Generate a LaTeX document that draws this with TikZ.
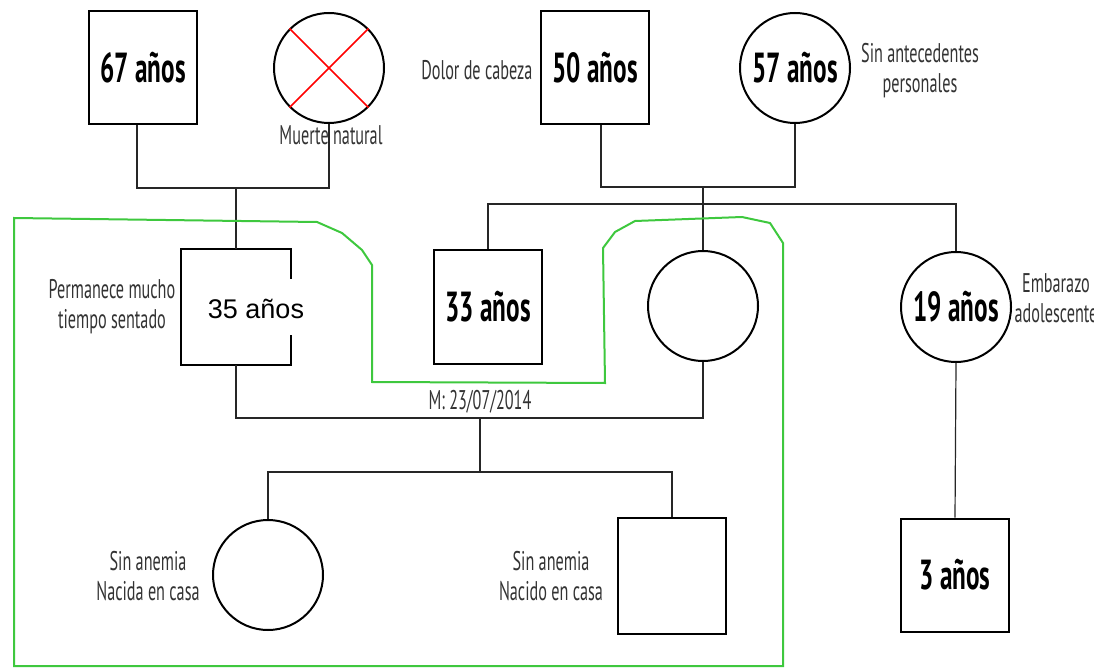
\documentclass[tikz,border=0pt]{standalone}
\usepackage{fontspec}
\setmainfont{Liberation Sans}
\newfontfamily\notefont[FakeStretch=0.6]{PT Sans}
\newfontfamily\agefont[FakeStretch=0.6]{PT Sans}
\definecolor{hull}{RGB}{62,200,62}

\begin{document}
\begin{tikzpicture}[x=1pt, y=-1pt,
  male/.style={draw, line width=2pt, minimum width=108pt, minimum height=113pt, inner sep=0pt},
  female/.style={circle, draw, line width=2pt, minimum size=110pt, inner sep=0pt},
  age/.style={font=\agefont\bfseries\fontsize{42}{46}\selectfont},
  note/.style={font=\notefont\fontsize{27}{30}\selectfont, text=black!80, align=center},
  link/.style={line width=1.2pt, black!85},
  group/.style={line width=2pt, hull}]
\useasboundingbox (0,0) rectangle (1094,668);

% grandparents
\node[male, age] (gf) at (143,68) {67 años};
\node[female] (gm) at (329,68) {};
\draw[red, line width=1.6pt] (gm.north west) -- (gm.south east) (gm.north east) -- (gm.south west);
\node[note] (gmnote) at (331,135) {Muerte natural};
\node[male, age] (mgf) at (595,68) {50 años};
\node[female, age] (mgm) at (795,68) {57 años};
\node[note, anchor=east] (mgfnote) at (536,70) {Dolor de cabeza};
\node[note] (mgmnote) at (920,71) {Sin antecedentes\\personales};

% parents, uncle and aunt
\node[male, draw=none] (father) at (236,307) {};
\draw[line width=2pt]
     (father.north east) ++(0,29)
  -- (father.north east)
  -- (father.north west)
  -- (father.south west)
  -- (father.south east)
  -- ++(0,-30);
\node[font=\fontsize{27}{30}\selectfont] (fatherage) at (256,309) {35 años};
\node[note] (fathernote) at (112,307) {Permanece mucho\\tiempo sentado};
\node[male, age] (uncle) at (488,307) {33 años};
\node[female] (mother) at (703,306) {};
\node[female, age] (aunt) at (956,307) {19 años};
\node[note] (auntnote) at (1056,298) {Embarazo\\adolescente};

% children
\node[female] (girl) at (268,575) {};
\node[note] (girlnote) at (148,576) {Sin anemia\\Nacida en casa};
\node[male, minimum height=116pt] (boy) at (672,576) {};
\node[note] (boynote) at (551,576) {Sin anemia\\Nacido en casa};
\node[male, age] (cousin) at (955,575) {3 años};

\coordinate (gpar) at (236,188);
\coordinate (mpar) at (703,187);
\coordinate (sib) at (703,204);
\coordinate (mar) at (480,418);
\coordinate (kids) at (480,472);

\draw[link] ([xshift=-6pt]gf.south) |- (gpar) -| (gm.south);
\draw[link] (gpar) -- (father.north);
\draw[link] ([xshift=6pt]mgf.south) |- (mpar) -| (mgm.south);
\draw[link] (mpar) -- (mother.north);
\draw[link] (uncle.north) |- (sib) -| (aunt.north);
\draw[link] (father.south) |- (mar) -| (mother.south);
\node[note] (wed) at (480,402) {M: 23/07/2014};
\draw[link] (mar) -- (kids);
\draw[link] (girl.north) |- (kids) -| (boy.north);
\draw[link] (aunt.south) -- (cousin.north);

% household
\draw[group]
     (14,218) -- (317,222) -- (342,233) -- (362,250) -- (372,265)
  -- (372,382) -- (605,383) -- (603,248) -- (615,232) -- (635,221)
  -- (742,217) -- (770,223) -- (783,243) -- (783,666) -- (14,666) -- cycle;
\end{tikzpicture}
\end{document}
